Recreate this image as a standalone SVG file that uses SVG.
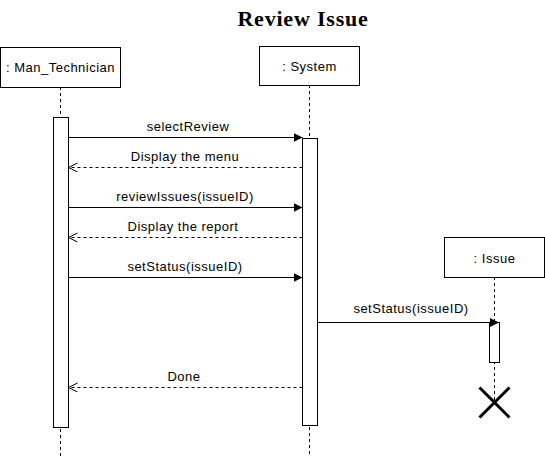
<svg xmlns="http://www.w3.org/2000/svg" width="545" height="458" viewBox="0 0 545 458">
<defs>
<marker id="block" markerWidth="10" markerHeight="10" refX="9" refY="4.5" orient="auto" markerUnits="userSpaceOnUse">
<path d="M0,0 L9,4.5 L0,9 Z" fill="#000"/>
</marker>
<marker id="open" markerWidth="10" markerHeight="10" refX="9" refY="4.5" orient="auto" markerUnits="userSpaceOnUse">
<path d="M0,0 L9,4.5 L0,9" fill="none" stroke="#000" stroke-width="1"/>
</marker>
</defs>
<style>
.box{fill:#fff;stroke:#000;stroke-width:1}
.life{stroke:#000;stroke-width:1;stroke-dasharray:3 3;fill:none}
.act{fill:#fff;stroke:#000;stroke-width:1}
.lbl{font-family:"Liberation Sans",Arial,sans-serif;font-size:13px;letter-spacing:0.5px;fill:#000;text-anchor:middle}
.call{stroke:#000;stroke-width:1;fill:none;marker-end:url(#block)}
.ret{stroke:#000;stroke-width:1;fill:none;stroke-dasharray:3 3;marker-end:url(#open)}
.title{font-family:"Liberation Serif","Times New Roman",serif;font-size:22px;letter-spacing:0.8px;font-weight:bold;fill:#000;text-anchor:middle}
</style>
<rect width="545" height="458" fill="#fff"/>
<text class="title" x="303" y="26">Review Issue</text>

<g id="man_technician">
<line class="life" x1="60.5" y1="87" x2="60.5" y2="458"/>
<rect class="box" x="0.5" y="47.5" width="120" height="40"/>
<text class="lbl" x="60.5" y="72">: Man_Technician</text>
<rect class="act" x="53.5" y="117.5" width="15" height="310"/>
</g>

<g id="system">
<line class="life" x1="309.5" y1="85" x2="309.5" y2="456"/>
<rect class="box" x="259.5" y="46.5" width="100" height="39"/>
<text class="lbl" x="309.5" y="71">: System</text>
<rect class="act" x="302.5" y="138.5" width="15" height="287"/>
</g>

<g id="issue">
<line class="life" x1="494.5" y1="277" x2="494.5" y2="402"/>
<rect class="box" x="444.5" y="237.5" width="100" height="40"/>
<text class="lbl" x="494.5" y="263">: Issue</text>
<rect class="act" x="489.5" y="322.5" width="10" height="40"/>
<path d="M479.5,387.5 L509.5,417.5 M509.5,387.5 L479.5,417.5" stroke="#000" stroke-width="3" fill="none"/>
</g>

<g id="connectors">
<line class="call" x1="68.5" y1="137.5" x2="302.5" y2="137.5"/>
<text class="lbl" x="188" y="131">selectReview</text>
<line class="ret" x1="302.5" y1="167.5" x2="68.5" y2="167.5"/>
<text class="lbl" x="185" y="161">Display the menu</text>
<line class="call" x1="68.5" y1="207.5" x2="302.5" y2="207.5"/>
<text class="lbl" x="185" y="201">reviewIssues(issueID)</text>
<line class="ret" x1="302.5" y1="237.5" x2="68.5" y2="237.5"/>
<text class="lbl" x="183" y="231">Display the report</text>
<line class="call" x1="68.5" y1="277.5" x2="302.5" y2="277.5"/>
<text class="lbl" x="185" y="271">setStatus(issueID)</text>
<line class="call" x1="317.5" y1="322.5" x2="499" y2="322.5"/>
<text class="lbl" x="411" y="313">setStatus(issueID)</text>
<line class="ret" x1="302.5" y1="387.5" x2="68.5" y2="387.5"/>
<text class="lbl" x="184" y="381">Done</text>
</g>
</svg>
